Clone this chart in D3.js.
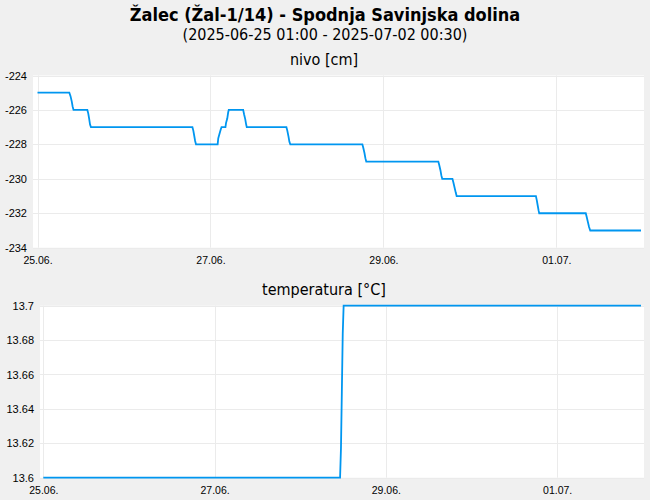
<!DOCTYPE html>
<html>
<head>
<meta charset="utf-8">
<script src="https://cdn.jsdelivr.net/npm/d3@7"></script>
<style>
  body { margin: 0; background: #f0f0f0; }
  svg { display: block; font-family: "DejaVu Sans Condensed", "DejaVu Sans", sans-serif; font-stretch: condensed; }
</style>
</head>
<body>
<script>
var titleText = "Žalec (Žal-1/14) - Spodnja Savinjska dolina",
    subtitleText = "(2025-06-25 01:00 - 2025-07-02 00:30)";

var dayTicks = ["2025-06-25 01:00", "2025-06-27 01:00", "2025-06-29 01:00", "2025-07-01 01:00"];

// nivo [cm]
var nivoTicks = [-224, -226, -228, -230, -232, -234];
var nivoTime = [
  "2025-06-25 01:00", "2025-06-25 09:50", "2025-06-25 10:10", "2025-06-25 10:30", "2025-06-25 10:45", "2025-06-25 11:00",
  "2025-06-25 14:50", "2025-06-25 15:05", "2025-06-25 15:20", "2025-06-25 15:35", "2025-06-25 15:50",
  "2025-06-26 20:00", "2025-06-26 20:15", "2025-06-26 20:30", "2025-06-26 20:45", "2025-06-26 21:00",
  "2025-06-27 03:00", "2025-06-27 03:10", "2025-06-27 03:30", "2025-06-27 03:50", "2025-06-27 04:05",
  "2025-06-27 05:10", "2025-06-27 05:20", "2025-06-27 05:40", "2025-06-27 05:55", "2025-06-27 06:05",
  "2025-06-27 10:05", "2025-06-27 10:20", "2025-06-27 10:40", "2025-06-27 10:55", "2025-06-27 11:05",
  "2025-06-27 22:05", "2025-06-27 22:20", "2025-06-27 22:40", "2025-06-27 22:55", "2025-06-27 23:10",
  "2025-06-28 19:10", "2025-06-28 19:25", "2025-06-28 19:45", "2025-06-28 20:00", "2025-06-28 20:15",
  "2025-06-29 16:15", "2025-06-29 16:30", "2025-06-29 16:50", "2025-06-29 17:05", "2025-06-29 17:20",
  "2025-06-29 20:10", "2025-06-29 20:25", "2025-06-29 20:45", "2025-06-29 21:05", "2025-06-29 21:20",
  "2025-06-30 19:20", "2025-06-30 19:35", "2025-06-30 19:50", "2025-06-30 20:05", "2025-06-30 20:15",
  "2025-07-01 09:10", "2025-07-01 09:25", "2025-07-01 09:45", "2025-07-01 10:05", "2025-07-01 10:25",
  "2025-07-02 00:30"
];
var nivoValue = [
  -225, -225, -225.2, -225.5, -225.8, -226,
  -226, -226.2, -226.5, -226.85, -227,
  -227, -227.2, -227.5, -227.8, -228,
  -228, -227.65, -227.4, -227.15, -227,
  -227, -226.75, -226.5, -226.15, -226,
  -226, -226.25, -226.55, -226.85, -227,
  -227, -227.2, -227.55, -227.85, -228,
  -228, -228.2, -228.5, -228.8, -229,
  -229, -229.2, -229.5, -229.8, -230,
  -230, -230.2, -230.5, -230.8, -231,
  -231, -231.25, -231.55, -231.85, -232,
  -232, -232.2, -232.5, -232.8, -233,
  -233
];

// temperatura [°C]
var tempTicks = [13.6, 13.62, 13.64, 13.66, 13.68, 13.7];
var tempTickLabels = ["13.6", "13.62", "13.64", "13.66", "13.68", "13.7"];
var tempTime = ["2025-06-25 01:00", "2025-06-28 12:10", "2025-06-28 12:25", "2025-06-28 12:40", "2025-06-28 12:55", "2025-06-28 13:10", "2025-07-02 00:30"];
var tempValue = [13.6, 13.6, 13.617, 13.65, 13.684, 13.7, 13.7];

var parse = d3.timeParse("%Y-%m-%d %H:%M"),
    dayFormat = d3.timeFormat("%d.%m.");

var W = 650, H = 500;

var svg = d3.select("body").append("svg")
    .attr("width", W)
    .attr("height", H);

svg.append("text")
    .attr("x", 325)
    .attr("y", 20.5)
    .attr("text-anchor", "middle")
    .style("font-size", "18px")
    .style("font-weight", "bold")
    .text(titleText);

svg.append("text")
    .attr("x", 325)
    .attr("y", 39.5)
    .attr("text-anchor", "middle")
    .style("font-size", "16px")
    .text(subtitleText);

function drawPanel(p) {
  var data = p.times.map(function(t, i) { return {t: parse(t), v: p.values[i]}; });

  var x = d3.scaleTime()
      .domain([data[0].t, data[data.length - 1].t])
      .range([p.x0, p.x1]);
  var y = d3.scaleLinear()
      .domain(d3.extent(p.ticks))
      .range([p.bottom, p.top]);

  svg.append("text")
      .attr("x", 324)
      .attr("y", p.top - 10.5)
      .attr("text-anchor", "middle")
      .style("font-size", "16px")
      .text(p.title);

  // white plot area
  svg.append("rect")
      .attr("x", p.left)
      .attr("y", p.top)
      .attr("width", p.right - p.left)
      .attr("height", p.bottom - p.top)
      .attr("fill", "#fff");

  var g = svg.append("g");

  // grid
  g.selectAll(".hgrid")
      .data(p.ticks)
    .enter().append("line")
      .attr("x1", p.left)
      .attr("x2", p.right)
      .attr("y1", function(d) { return Math.round(y(d)) + 0.5; })
      .attr("y2", function(d) { return Math.round(y(d)) + 0.5; })
      .attr("stroke", "#ebebeb");

  var days = dayTicks.map(parse);
  g.selectAll(".vgrid")
      .data(days)
    .enter().append("line")
      .attr("x1", function(d) { return Math.round(x(d)) + 0.5; })
      .attr("x2", function(d) { return Math.round(x(d)) + 0.5; })
      .attr("y1", p.top)
      .attr("y2", p.bottom)
      .attr("stroke", "#ebebeb");

  // y axis
  var yAxis = d3.axisLeft(y)
      .tickValues(p.ticks)
      .tickSize(0)
      .tickPadding(6)
      .tickFormat(function(d, i) { return p.labels ? p.labels[i] : String(d); });
  g.append("g")
      .attr("transform", "translate(" + p.left + ",0)")
      .call(yAxis)
      .call(function(a) { a.select(".domain").remove(); })
      .selectAll("text")
      .attr("fill", "#000")
      .style("font-size", "11px")
      .style("font-family", null);

  // x axis
  var xAxis = d3.axisBottom(x)
      .tickValues(days)
      .tickSize(0)
      .tickPadding(9)
      .tickFormat(dayFormat);
  g.append("g")
      .attr("transform", "translate(0," + p.bottom + ")")
      .call(xAxis)
      .call(function(a) { a.select(".domain").remove(); })
      .selectAll("text")
      .attr("fill", "#000")
      .style("font-size", "10.5px")
      .style("font-family", null);

  var line = d3.line()
      .x(function(d) { return x(d.t); })
      .y(function(d) { return y(d.v); });

  g.append("path")
      .datum(data)
      .attr("fill", "none")
      .attr("stroke", "#0096f0")
      .attr("stroke-width", 1.8)
      .attr("d", line);
}

drawPanel({
  title: "nivo [cm]",
  times: nivoTime, values: nivoValue, ticks: nivoTicks,
  left: 33, right: 644, top: 75.5, bottom: 247.7, x0: 37.5, x1: 641
});

drawPanel({
  title: "temperatura [°C]",
  times: tempTime, values: tempValue, ticks: tempTicks, labels: tempTickLabels,
  left: 40, right: 644, top: 305.7, bottom: 477.7, x0: 43.3, x1: 641
});
</script>
</body>
</html>
